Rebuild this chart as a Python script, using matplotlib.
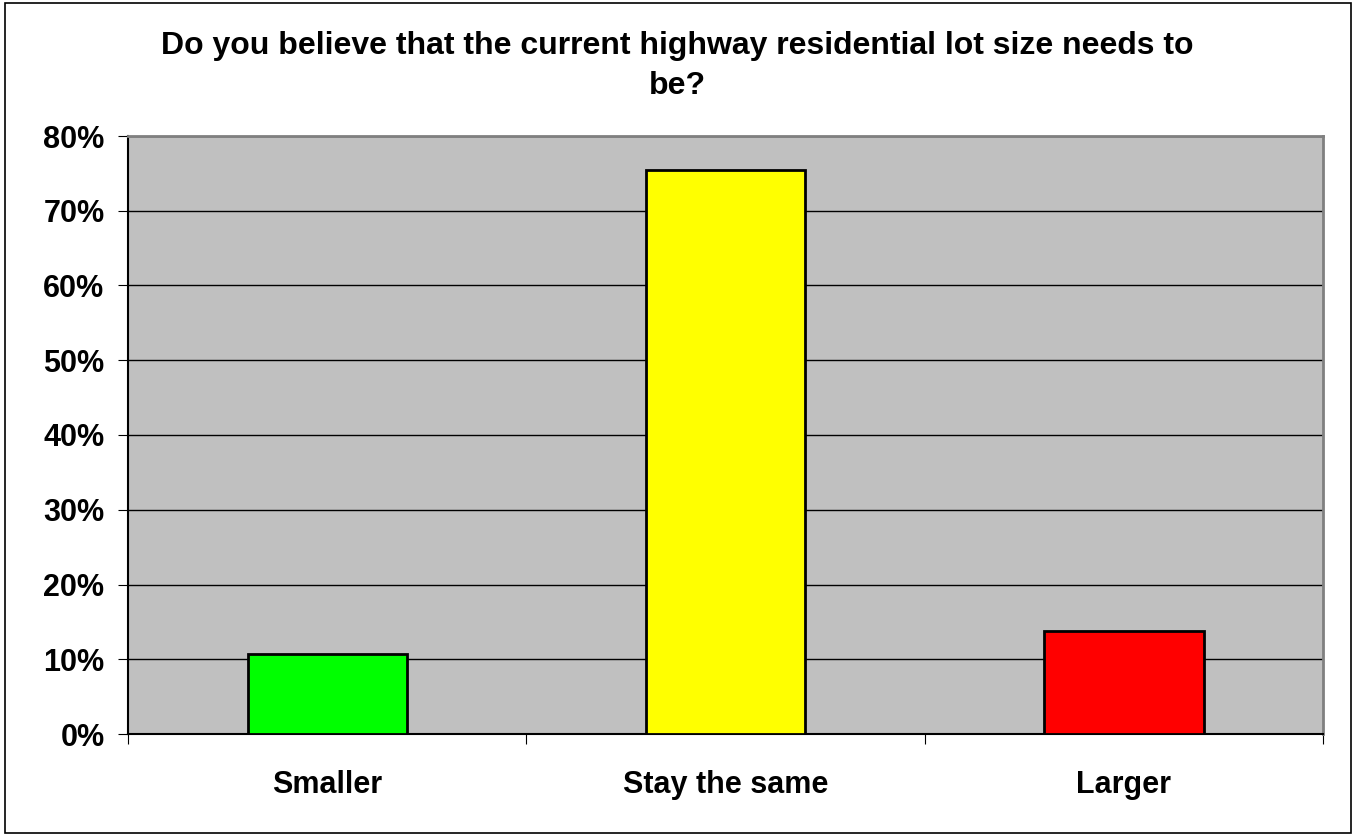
import matplotlib.pyplot as plt
from matplotlib.ticker import PercentFormatter
from matplotlib.patches import Rectangle

plt.rcParams['font.family'] = ['Liberation Sans', 'DejaVu Sans']

categories = ['Smaller', 'Stay the same', 'Larger']
values = [10.7, 75.5, 13.8]
colors = ['#00ff00', '#ffff00', '#ff0000']
title = 'Do you believe that the current highway residential lot size needs to\nbe?'

fig = plt.figure(figsize=(13.55, 8.36), dpi=100)
ax = fig.add_axes([128 / 1355, 102 / 836, 1195 / 1355, 598 / 836])

# rahmen um die ganze grafik
fig.patches.append(Rectangle((0.004, 0.003), 0.993, 0.994, transform=fig.transFigure,
                             fill=False, edgecolor='black', linewidth=1.2))

ax.set_facecolor('#c0c0c0')
x = range(len(categories))
ax.bar(x, values, width=0.4, color=colors, edgecolor='black', linewidth=2, zorder=3)

ax.set_xlim(-0.5, 2.5)
ax.set_ylim(0, 80)
ax.set_yticks(range(0, 81, 10))
ax.yaxis.set_major_formatter(PercentFormatter(decimals=0))
ax.grid(axis='y', color='black', linewidth=1, zorder=1)

# kategorie-trennstriche unten
ax.set_xticks([-0.5, 0.5, 1.5, 2.5])
ax.set_xticklabels([])
ax.set_xticks(list(x), minor=True)
ax.set_xticklabels(categories, minor=True, fontsize=22, fontweight='bold')
ax.tick_params(axis='x', which='minor', length=0, pad=26)
ax.tick_params(axis='x', which='major', length=7, color='black')
ax.tick_params(axis='y', length=7, labelsize=22, pad=10)
for lbl in ax.get_yticklabels():
    lbl.set_fontweight('bold')

for side in ['top', 'right']:
    ax.spines[side].set_color('#808080')
    ax.spines[side].set_linewidth(2)
ax.spines['left'].set_color('black')
ax.spines['bottom'].set_color('black')
ax.spines['left'].set_linewidth(1.5)
ax.spines['bottom'].set_linewidth(1.5)

fig.text(0.5, 1 - 66 / 836, title, ha='center', va='center',
         fontsize=23, fontweight='bold', linespacing=1.45)

fig.savefig('out.png', dpi=100)
